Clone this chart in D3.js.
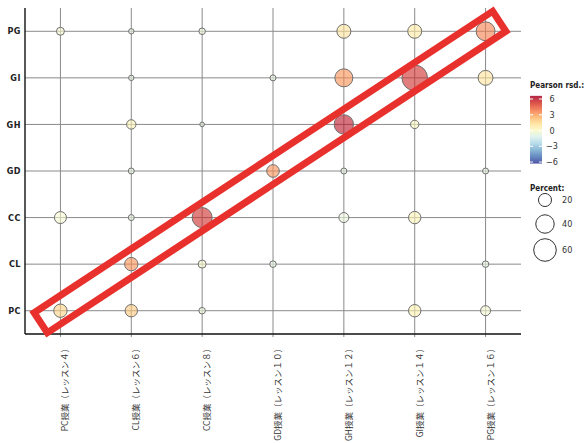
<!DOCTYPE html>
<html>
<head>
<meta charset="utf-8">
<script src="https://cdn.jsdelivr.net/npm/d3@7"></script>
<style>
  body { margin: 0; background: #fff; }
  svg { display: block; }
  .ylab { font: bold 9px "DejaVu Sans Condensed", "DejaVu Sans", sans-serif; fill: #222; }
  .xlab { font: 8.5px "Noto Sans CJK JP", sans-serif; fill: #333; }
  .legtitle { font: bold 8px "DejaVu Sans Condensed", "DejaVu Sans", sans-serif; fill: #222; }
  .legtext { font: 9px "DejaVu Sans Condensed", "DejaVu Sans", sans-serif; fill: #333; }
</style>
</head>
<body>
<div id="chart"></div>
<script>
// lessons (columns) and classes (rows, bottom to top)
var lessons = ["PC授業（レッスン４）", "CL授業（レッスン６）", "CC授業（レッスン８）", "GD授業（レッスン１０）",
  "GH授業（レッスン１２）", "GI授業（レッスン１４）", "PG授業（レッスン１６）"];
var classes = ["PC", "CL", "CC", "GD", "GH", "GI", "PG"];

// percent per lesson, rows in order PC, CL, CC, GD, GH, GI, PG (null = no bubble)
var percent = [
  [21, null, 17, null, null, null, 7.5],
  [18, 21, 4.2, 4.2, 10.4, 3.4, 3.4],
  [5, 7.5, 47, null, 2.5, null, 5],
  [null, 5, null, 18.7, null, 4.2, null],
  [null, null, 11.7, 4.2, 44, 38, 23],
  [18, null, 18, null, 8.3, 77, 23],
  [11.7, 5, null, 4.2, null, 26, 42]
];
// pearson residuals, same layout
var rsd = [
  [1.5, null, -0.3, null, null, null, -0.3],
  [1.8, 3, -0.8, -0.8, 0.3, -0.8, -0.8],
  [-0.6, -0.2, 5, null, -0.8, null, -0.6],
  [null, -0.8, null, 3, null, -0.8, null],
  [null, null, -0.7, -0.8, 5.5, 3, 1],
  [0.4, null, 0.3, null, 0, 5, 0.8],
  [-0.3, -0.8, null, -0.8, null, 1, 3.3]
];
var rsdTicks = [6, 3, 0, -3, -6];
var pctTicks = [20, 40, 60];

var width = 584, height = 443;
var margin = {top: 8, right: 63, bottom: 109, left: 25};

var svg = d3.select("#chart").append("svg")
  .attr("width", width)
  .attr("height", height);

var x = d3.scalePoint().domain(lessons).range([margin.left, width - margin.right]).padding(0.5);
var y = d3.scalePoint().domain(classes).range([height - margin.bottom, margin.top]).padding(0.5);
var r = d3.scaleSqrt().domain([0, 60]).range([0, 11.3]);
var color = function (v) { return d3.interpolateRdYlBu(0.5 - v / 12); };

var bottom = height - margin.bottom;

// grid
svg.append("g").selectAll("line")
  .data(classes)
  .enter().append("line")
  .attr("x1", margin.left).attr("x2", width - margin.right)
  .attr("y1", function (d) { return y(d); }).attr("y2", function (d) { return y(d); })
  .attr("stroke", "#8a8a8a").attr("stroke-width", 1);

svg.append("g").selectAll("line")
  .data(lessons)
  .enter().append("line")
  .attr("x1", function (d) { return x(d); }).attr("x2", function (d) { return x(d); })
  .attr("y1", margin.top).attr("y2", bottom + 3)
  .attr("stroke", "#8a8a8a").attr("stroke-width", 1);

// axis lines
svg.append("line")
  .attr("x1", margin.left).attr("x2", margin.left)
  .attr("y1", margin.top).attr("y2", bottom)
  .attr("stroke", "#111").attr("stroke-width", 1.4);
svg.append("line")
  .attr("x1", margin.left).attr("x2", width - margin.right)
  .attr("y1", bottom).attr("y2", bottom)
  .attr("stroke", "#111").attr("stroke-width", 1.4);

// labels
svg.append("g").selectAll("text")
  .data(classes)
  .enter().append("text")
  .attr("class", "ylab")
  .attr("x", 21).attr("y", function (d) { return y(d); })
  .attr("dy", "0.35em")
  .attr("text-anchor", "end")
  .attr("letter-spacing", "0.5px")
  .text(function (d) { return d; });

svg.append("g").selectAll("text")
  .data(lessons)
  .enter().append("text")
  .attr("class", "xlab")
  .attr("transform", function (d) { return "translate(" + (x(d) + 8) + "," + (bottom + 10) + ") rotate(-90)"; })
  .attr("text-anchor", "end")
  .text(function (d) { return d; });

// bubbles
var cells = [];
lessons.forEach(function (l, i) {
  classes.forEach(function (c, j) {
    if (percent[i][j] != null) cells.push({lesson: l, cls: c, pct: percent[i][j], rsd: rsd[i][j]});
  });
});

svg.append("g").selectAll("circle")
  .data(cells)
  .enter().append("circle")
  .attr("cx", function (d) { return x(d.lesson); })
  .attr("cy", function (d) { return y(d.cls); })
  .attr("r", function (d) { return r(d.pct); })
  .attr("fill", function (d) { return color(d.rsd); })
  .attr("fill-opacity", 0.6)
  .attr("stroke", "#6f6f6f")
  .attr("stroke-width", 1);

// legend: pearson residual colour bar
var legX = 530;
var ly = d3.scaleLinear().domain([-6, 6]).range([162, 99]);
var defs = svg.append("defs");
var grad = defs.append("linearGradient").attr("id", "rsdgrad")
  .attr("x1", 0).attr("x2", 0).attr("y1", 1).attr("y2", 0);
d3.range(0, 1.01, 0.1).forEach(function (t) {
  grad.append("stop").attr("offset", t).attr("stop-color", color(-6 + 12 * t));
});
svg.append("text").attr("class", "legtitle").attr("x", legX).attr("y", 88).text("Pearson rsd.:");
svg.append("rect")
  .attr("x", legX).attr("y", ly(6.6)).attr("width", 12).attr("height", ly(-6.3) - ly(6.6))
  .attr("fill", "url(#rsdgrad)").attr("opacity", 0.85);
svg.append("g").selectAll("g")
  .data(rsdTicks)
  .enter().append("g")
  .each(function (d) {
    var g = d3.select(this);
    g.append("line").attr("x1", legX).attr("x2", legX + 3).attr("y1", ly(d)).attr("y2", ly(d))
      .attr("stroke", "#fff").attr("stroke-width", 1);
    g.append("line").attr("x1", legX + 9).attr("x2", legX + 12).attr("y1", ly(d)).attr("y2", ly(d))
      .attr("stroke", "#fff").attr("stroke-width", 1);
    g.append("text").attr("class", "legtext")
      .attr("x", legX + 22).attr("y", ly(d)).attr("dy", "0.35em")
      .attr("text-anchor", "middle")
      .text(d < 0 ? "\u2212" + Math.abs(d) : d);
  });

// legend: percent
svg.append("text").attr("class", "legtitle").attr("x", legX).attr("y", 191).text("Percent:");
var pcY = d3.scalePoint().domain(pctTicks).range([200, 248]);
svg.append("g").selectAll("circle")
  .data(pctTicks)
  .enter().append("circle")
  .attr("cx", legX + 15).attr("cy", function (d) { return pcY(d) + (d === 60 ? 2 : 0); })
  .attr("r", function (d) { return r(d); })
  .attr("fill", "#fff").attr("stroke", "#333").attr("stroke-width", 1);
svg.append("g").selectAll("text")
  .data(pctTicks)
  .enter().append("text")
  .attr("class", "legtext")
  .attr("x", legX + 32).attr("y", function (d) { return pcY(d) + (d === 60 ? 2 : 0); })
  .attr("dy", "0.35em")
  .text(function (d) { return d; });

// red highlight frame along the diagonal
var p0 = [x(lessons[0]), y(classes[0])];
var p1 = [x(lessons[6]), y(classes[6])];
var cx = (p0[0] + p1[0]) / 2 - 3, cy = (p0[1] + p1[1]) / 2 + 1;
var len = Math.hypot(p1[0] - p0[0], p1[1] - p0[1]);
var ang = Math.atan2(p1[1] - p0[1], p1[0] - p0[0]) * 180 / Math.PI;
svg.append("rect")
  .attr("transform", "translate(" + cx + "," + cy + ") rotate(" + ang + ")")
  .attr("x", -len / 2 - 20).attr("y", -12)
  .attr("width", len + 40).attr("height", 24)
  .attr("fill", "none")
  .attr("stroke", "#e8302c")
  .attr("stroke-width", 7);
</script>
</body>
</html>
